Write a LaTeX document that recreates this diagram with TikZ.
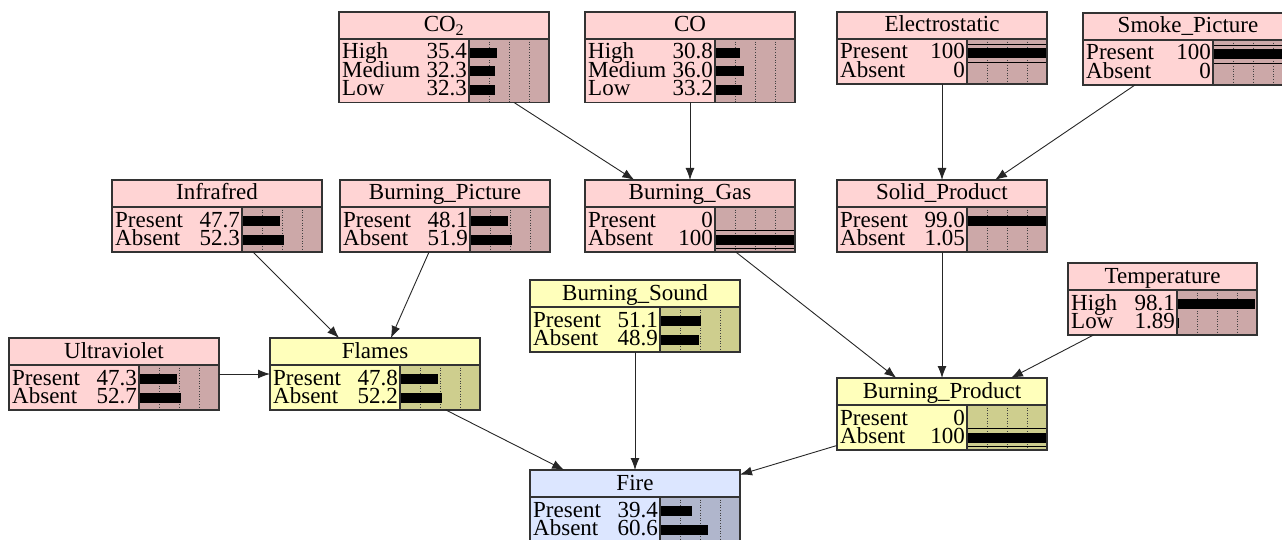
\documentclass[tikz,border=0pt]{standalone}
\usepackage{fontspec}
\setmainfont{Liberation Serif}
\usetikzlibrary{arrows.meta}

\definecolor{NodePink}{RGB}{255,212,212}
\definecolor{NodePinkBar}{RGB}{204,168,168}
\definecolor{NodeYellow}{RGB}{255,255,187}
\definecolor{NodeYellowBar}{RGB}{206,206,142}
\definecolor{NodeBlue}{RGB}{220,230,255}
\definecolor{NodeBlueBar}{RGB}{176,182,204}

\tikzset{
    bnbox/.style={inner sep=0pt, outer sep=0pt, anchor=north west},
    bnframe/.style={draw=black!80, line width=1.2pt},
    bngrid/.style={draw=black!75, dotted, line width=0.6pt},
    bnarrow/.style={draw=black!85, line width=0.9pt, -{Latex[length=12pt,width=9pt]}}
}

\newcommand{\bnfont}{\fontsize{23}{23}\selectfont}
\newcommand{\bnnode}[8][130]{%
    \pgfmathsetmacro{\boxw}{#1+80}
    \pgfmathsetmacro{\boxh}{27+#7*18.5+8}
    \node[bnbox, fill=Node#6, minimum width=\boxw pt, minimum height=\boxh pt] (#2) at (#3,#4) {};
    \fill[Node#6Bar] (#3+#1,#4+27) rectangle (#3+\boxw,#4+\boxh);
    \foreach \g in {20,40,60}
        \draw[bngrid] (#3+#1+\g,#4+27) -- (#3+#1+\g,#4+\boxh);
    \node[font=\bnfont, anchor=base, inner sep=0pt] at (#3+\boxw/2,#4+20) {#5};
    \foreach \st/\val [count=\k] in {#8} {
        \pgfmathsetmacro{\by}{#4+47+(\k-1)*18.5}
        \node[font=\bnfont, anchor=base west, inner sep=0pt] at (#3+3,\by) {\st};
        \node[font=\bnfont, anchor=base east, inner sep=0pt] at (#3+#1-2,\by) {\val};
        \fill (#3+#1,\by-11) rectangle (#3+#1+0.8*\val,\by-1);
        \ifdim\val pt>99.9pt
            \draw[line width=0.8pt] (#3+#1,\by-15) -- ++(80,0) (#3+#1,\by+3) -- ++(80,0);
        \fi
    }
    \draw[bnframe] (#3,#4+27) -- ++(\boxw,0) (#3+#1,#4+27) -- (#3+#1,#4+\boxh);
    \draw[bnframe] (#2.north west) rectangle (#2.south east);
}

\begin{document}
\begin{tikzpicture}[x=1pt, y=-1pt]
    \clip (0,0) rectangle (1282,540);

    \bnnode{co2}{339}{12}{CO\textsubscript{2}}{Pink}{3}{High/35.4, Medium/32.3, Low/32.3}
    \bnnode{co}{585}{12}{CO}{Pink}{3}{High/30.8, Medium/36.0, Low/33.2}
    \bnnode{electro}{837}{12}{Electrostatic}{Pink}{2}{Present/100, Absent/0}
    \bnnode{smoke}{1083}{13}{Smoke\_Picture}{Pink}{2}{Present/100, Absent/0}
    \bnnode{infra}{112}{180}{Infrafred}{Pink}{2}{Present/47.7, Absent/52.3}
    \bnnode{burnpic}{340}{180}{Burning\_Picture}{Pink}{2}{Present/48.1, Absent/51.9}
    \bnnode{burngas}{585}{180}{Burning\_Gas}{Pink}{2}{Present/0, Absent/100}
    \bnnode{solid}{837}{180}{Solid\_Product}{Pink}{2}{Present/99.0, Absent/1.05}
    \bnnode[109]{temp}{1068}{263}{Temperature}{Pink}{2}{High/98.1, Low/1.89}
    \bnnode{sound}{530}{280}{Burning\_Sound}{Yellow}{2}{Present/51.1, Absent/48.9}
    \bnnode{uv}{9}{338}{Ultraviolet}{Pink}{2}{Present/47.3, Absent/52.7}
    \bnnode{flames}{270}{338}{Flames}{Yellow}{2}{Present/47.8, Absent/52.2}
    \bnnode{burnprod}{837}{378}{Burning\_Product}{Yellow}{2}{Present/0, Absent/100}
    \bnnode{fire}{530}{470}{Fire}{Blue}{2}{Present/39.4, Absent/60.6}

    \draw[bnarrow] (co2) -- (burngas);
    \draw[bnarrow] (co) -- (burngas);
    \draw[bnarrow] (electro) -- (solid);
    \draw[bnarrow] (smoke) -- (solid);
    \draw[bnarrow] (infra) -- (flames);
    \draw[bnarrow] (burnpic) -- (flames);
    \draw[bnarrow] (uv) -- (flames);
    \draw[bnarrow] (burngas) -- (burnprod);
    \draw[bnarrow] (solid) -- (burnprod);
    \draw[bnarrow] (temp) -- (burnprod);
    \draw[bnarrow] (flames) -- (fire);
    \draw[bnarrow] (sound) -- (fire);
    \draw[bnarrow] (burnprod) -- (fire);
\end{tikzpicture}
\end{document}
